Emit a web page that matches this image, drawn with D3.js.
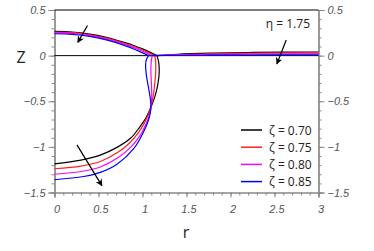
<!DOCTYPE html>
<html><head><meta charset="utf-8">
<script src="https://cdn.jsdelivr.net/npm/d3@7"></script>
<style>
body{margin:0;background:#fff;}
svg{display:block;}
.tick text{font-family:"Liberation Sans",Arial,sans-serif;font-style:italic;font-size:11px;fill:#555;}
</style></head>
<body><svg id="c" width="374" height="251"></svg>
<script>
// ---- data ----
const zetaLabels = ["ζ = 0.70","ζ = 0.75","ζ = 0.80","ζ = 0.85"];
const colors = ["#000000","#ff2020","#ff00ff","#0000ff"];
// upper interface [r, z]
const upper = [
  [[0,0.266],[0.2,0.259],[0.4,0.236],[0.6,0.198],[0.8,0.142],[0.9,0.111],[1.0,0.074],[1.1,0.03],[1.165,0]],
  [[0,0.258],[0.2,0.251],[0.4,0.228],[0.6,0.19],[0.8,0.133],[0.9,0.1],[1.0,0.062],[1.1,0.018],[1.14,0]],
  [[0,0.25],[0.2,0.243],[0.4,0.22],[0.6,0.181],[0.8,0.123],[0.9,0.088],[1.0,0.048],[1.11,0]],
  [[0,0.24],[0.2,0.233],[0.4,0.21],[0.6,0.17],[0.8,0.11],[0.9,0.073],[1.0,0.03],[1.07,0]]
];
// lower interface [r, z]
const lower = [
  [[1.165,0],[1.185,-0.08],[1.19,-0.18],[1.18,-0.28],[1.16,-0.38],[1.13,-0.48],[1.09,-0.58],[1.04,-0.68],[0.97,-0.78],[0.87,-0.9],[0.72,-1.0],[0.52,-1.09],[0.3,-1.145],[0,-1.186]],
  [[1.14,0],[1.15,-0.08],[1.15,-0.18],[1.14,-0.3],[1.125,-0.42],[1.1,-0.54],[1.07,-0.64],[1.02,-0.74],[0.95,-0.85],[0.85,-0.96],[0.72,-1.06],[0.52,-1.16],[0.3,-1.21],[0,-1.24]],
  [[1.11,0],[1.1,-0.06],[1.095,-0.16],[1.1,-0.28],[1.105,-0.42],[1.1,-0.54],[1.08,-0.65],[1.03,-0.77],[0.97,-0.88],[0.87,-1.0],[0.72,-1.12],[0.52,-1.22],[0.3,-1.27],[0,-1.30]],
  [[1.07,0],[1.045,-0.04],[1.035,-0.1],[1.045,-0.22],[1.07,-0.36],[1.09,-0.48],[1.095,-0.58],[1.07,-0.7],[1.01,-0.84],[0.9,-1.02],[0.71,-1.19],[0.52,-1.28],[0.33,-1.325],[0,-1.36]]
];
// outer interface [r, z]
const outer = [
  [[1.165,0],[1.4,0.015],[1.8,0.027],[2.2,0.034],[2.6,0.038],[3,0.04]],
  [[1.14,0],[1.4,0.011],[1.8,0.02],[2.2,0.026],[2.6,0.029],[3,0.03]],
  [[1.11,0],[1.4,0.007],[1.8,0.013],[2.2,0.017],[2.6,0.019],[3,0.02]],
  [[1.07,0],[1.4,0.003],[1.8,0.005],[2.2,0.007],[2.6,0.008],[3,0.008]]
];
const arrows = [
  [[0.375,0.33],[0.265,0.145]],
  [[2.633,0.172],[2.527,-0.091]],
  [[0.255,-0.978],[0.539,-1.424]]
];
const xTicks = [0,0.5,1,1.5,2,2.5,3];
const xTickLabels = ["0","0.5","1","1.5","2","2.5","3"];
const yTicks = [0.5,0,-0.5,-1,-1.5];
const yTickLabels = ["0.5","0","−0.5","−1","−1.5"];
const etaLabel = "η = 1.75";

// ---- drawing ----
const svg = d3.select("#c");
const x = d3.scaleLinear().domain([0,3]).range([54.5,318.5]);
const y = d3.scaleLinear().domain([-1.5,0.5]).range([192.5,10]);
const axisColor = "#888";

function styleAxis(g){
  g.select(".domain").attr("stroke",axisColor).attr("stroke-width",1.2);
  g.selectAll(".tick line").attr("stroke",axisColor).attr("stroke-width",1);
}
const minorX = d3.range(0,3.0001,0.1);
const minorY = d3.range(-1.5,0.5001,0.1);

// minor ticks
svg.append("g").attr("transform",`translate(0,${y(-1.5)})`)
  .call(d3.axisBottom(x).tickValues(minorX).tickSize(3).tickFormat(""))
  .call(styleAxis);
svg.append("g").attr("transform",`translate(${x(0)},0)`)
  .call(d3.axisLeft(y).tickValues(minorY).tickSize(3).tickFormat(""))
  .call(styleAxis);
svg.append("g").attr("transform",`translate(${x(3)},0)`)
  .call(d3.axisRight(y).tickValues(minorY).tickSize(3).tickFormat(""))
  .call(styleAxis);
// major ticks
const gx = svg.append("g").attr("transform",`translate(0,${y(-1.5)})`)
  .call(d3.axisBottom(x).tickValues(xTicks).tickSize(5).tickPadding(8).tickFormat((d,i)=>xTickLabels[i]))
  .call(styleAxis);
gx.selectAll(".tick text").attr("dx",2);
svg.append("g").attr("transform",`translate(${x(0)},0)`)
  .call(d3.axisLeft(y).tickValues(yTicks).tickSize(6).tickPadding(3).tickFormat((d,i)=>yTickLabels[i]))
  .call(styleAxis);
svg.append("g").attr("transform",`translate(${x(3)},0)`)
  .call(d3.axisRight(y).tickValues(yTicks).tickSize(6).tickPadding(3).tickFormat((d,i)=>yTickLabels[i]))
  .call(styleAxis);

// top line and zero line
svg.append("line").attr("x1",x(0)).attr("x2",x(3)).attr("y1",y(0.5)).attr("y2",y(0.5))
  .attr("stroke","#000").attr("stroke-width",1.2);
svg.append("line").attr("x1",x(0)).attr("x2",x(3)).attr("y1",y(0)).attr("y2",y(0))
  .attr("stroke","#000").attr("stroke-width",1);

const line = d3.line().x(d=>x(d[0])).y(d=>y(d[1])).curve(d3.curveCatmullRom.alpha(0.5));
[0,1,2,3].forEach(i=>{
  [outer[i],upper[i],lower[i]].forEach(pts=>{
    svg.append("path").attr("d",line(pts)).attr("fill","none")
      .attr("stroke",colors[i]).attr("stroke-width",1.2);
  });
});

// arrows
svg.append("defs").append("marker").attr("id","ah").attr("viewBox","0 0 10 10")
  .attr("refX",9).attr("refY",5).attr("markerWidth",7).attr("markerHeight",7)
  .attr("orient","auto").attr("markerUnits","userSpaceOnUse")
  .append("path").attr("d","M0,0 L10,5 L0,10 L3,5 Z").attr("fill","#000");
arrows.forEach(a=>{
  svg.append("line").attr("x1",x(a[0][0])).attr("y1",y(a[0][1]))
    .attr("x2",x(a[1][0])).attr("y2",y(a[1][1]))
    .attr("stroke","#000").attr("stroke-width",1.2).attr("marker-end","url(#ah)");
});

// labels
const font = "'Open Sans','Noto Sans',sans-serif";
svg.append("text").attr("x",21).attr("y",63).attr("text-anchor","middle")
  .attr("font-family",font).attr("font-size",16).attr("fill","#222").text("Z");
svg.append("text").attr("x",186).attr("y",238).attr("text-anchor","middle")
  .attr("font-family",font).attr("font-size",16).attr("fill","#222").text("r");
svg.append("text").attr("x",310).attr("y",28).attr("text-anchor","end")
  .attr("font-family",font).attr("font-size",12).attr("fill","#222").text(etaLabel);

// legend
zetaLabels.forEach((t,i)=>{
  const yy = 130 + i*17.2;
  svg.append("line").attr("x1",241).attr("x2",262).attr("y1",yy).attr("y2",yy)
    .attr("stroke",colors[i]).attr("stroke-width",1.5);
  svg.append("text").attr("x",269).attr("y",yy+4.5).attr("font-family",font)
    .attr("font-size",12).attr("fill","#222").text(t);
});
</script></body></html>
